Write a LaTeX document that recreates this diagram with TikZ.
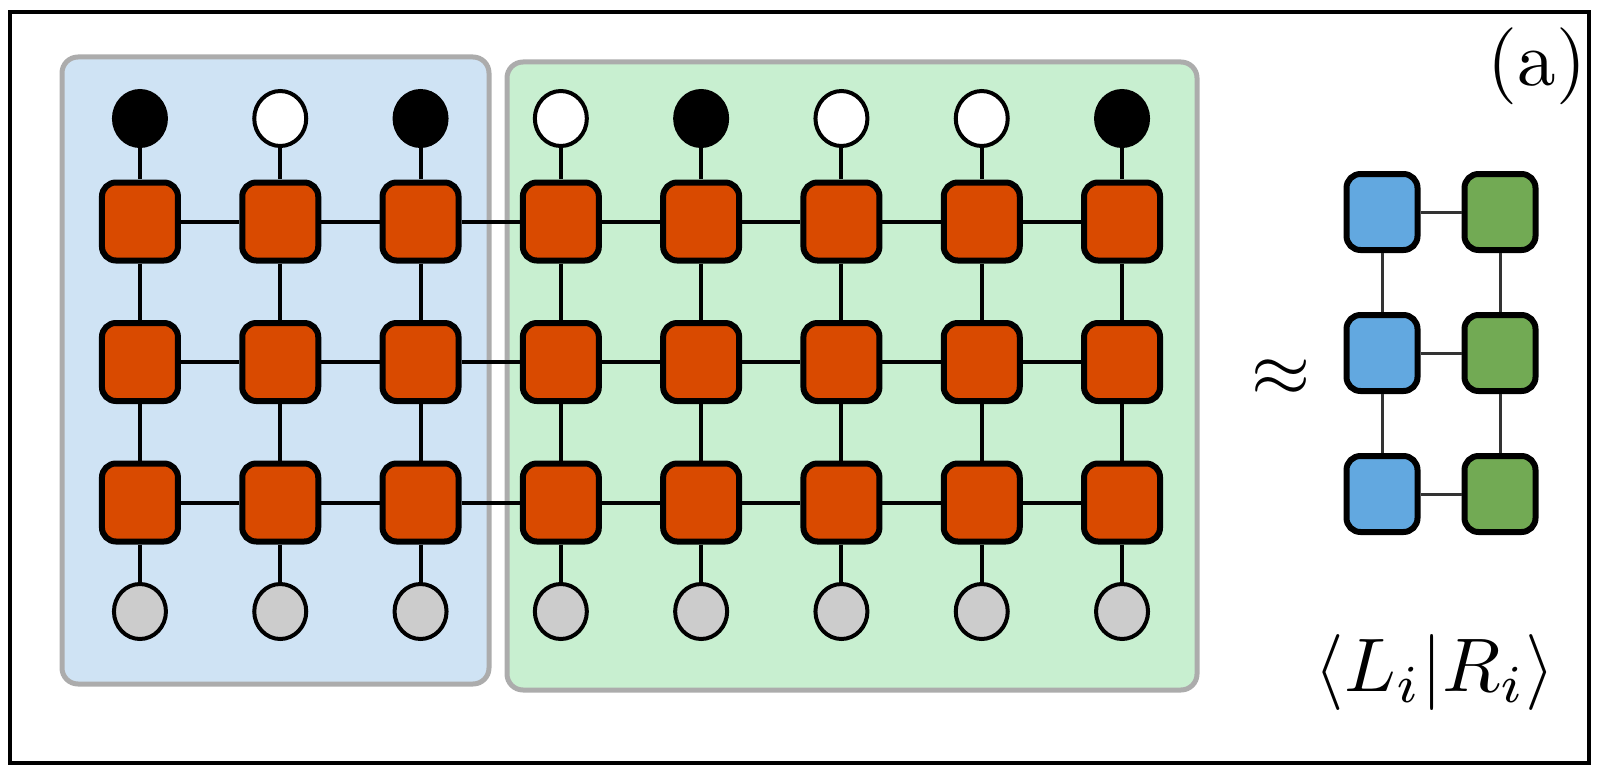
\documentclass[tikz,border=0pt]{standalone}
\usepackage{amsmath, amssymb}
\usetikzlibrary{matrix,shapes.geometric}

\definecolor{tensor}{RGB}{217,74,0}
\definecolor{leftbg}{RGB}{207,227,244}
\definecolor{rightbg}{RGB}{200,239,208}
\definecolor{panelrim}{RGB}{172,172,172}
\definecolor{lblue}{RGB}{98,168,224}
\definecolor{rgreen}{RGB}{114,170,84}
\definecolor{physgray}{RGB}{204,204,204}

\begin{document}
\begin{tikzpicture}[x=1pt, y=-1pt,
    site/.style={draw, line width=6pt, rounded corners=14pt, fill=tensor,
      minimum width=76pt, minimum height=78pt, inner sep=0pt},
    leg/.style={ellipse, draw, line width=4pt, minimum width=52pt,
      minimum height=55pt, inner sep=0pt},
    spinup/.style={leg, fill=black},
    spindn/.style={leg, fill=white},
    phys/.style={leg, fill=physgray},
    bond/.style={line width=4pt},
    panel/.style={draw=panelrim, line width=5pt, rounded corners=16pt}]
  \useasboundingbox (0,0) rectangle (1605,778);
  \draw[line width=4pt] (10,12) rectangle (1589,763);
  \draw[panel, fill=leftbg] (62,57) rectangle (489,684);
  \draw[panel, fill=rightbg] (507,62) rectangle (1197,690);

  \matrix (m) at (631,365) [matrix of nodes, nodes in empty cells,
    column sep={140.3pt,between origins}, row sep=56.5pt]
  {
|[spinup]| & |[spindn]| & |[spinup]| & |[spindn]| & |[spinup]| & |[spindn]| & |[spindn]| & |[spinup]| \\[-25pt]
|[site]| & |[site]| & |[site]| & |[site]| & |[site]| & |[site]| & |[site]| & |[site]| \\
|[site]| & |[site]| & |[site]| & |[site]| & |[site]| & |[site]| & |[site]| & |[site]| \\
|[site]| & |[site]| & |[site]| & |[site]| & |[site]| & |[site]| & |[site]| & |[site]| \\[-19pt]
|[phys]| & |[phys]| & |[phys]| & |[phys]| & |[phys]| & |[phys]| & |[phys]| & |[phys]| \\ };
  \foreach \c in {1,...,8}
    \foreach \r [count=\s from 2] in {1,...,4}
      \draw[bond] (m-\r-\c) -- (m-\s-\c);
  \foreach \r in {2,3,4}
    \foreach \c [count=\d from 2] in {1,...,7}
      \draw[bond] (m-\r-\c) -- (m-\r-\d);

  \matrix (r) at (1441,353) [matrix of nodes, column sep=41pt, row sep=59pt,
    nodes={site, minimum width=71pt, minimum height=76pt}]
  {
|[fill=lblue]| {} & |[fill=rgreen]| {} \\
|[fill=lblue]| {} & |[fill=rgreen]| {} \\
|[fill=lblue]| {} & |[fill=rgreen]| {} \\ };
  \foreach \r in {1,2,3}
    \draw[bond, line width=3pt, black!80] (r-\r-1) -- (r-\r-2);
  \foreach \c in {1,2}
    \foreach \r [count=\s from 2] in {1,2}
      \draw[bond, line width=3pt, black!80] (r-\r-\c) -- (r-\s-\c);

  \node (approx) at (1281,378) {\scalebox{7.6}{$\approx$}};
  \node (tag) at (1537,66) {\scalebox{7.7}{(a)}};
  \node (braket) at (1435,672) {\scalebox{7.6}{$\langle L_i|R_i\rangle$}};
\end{tikzpicture}
\end{document}
